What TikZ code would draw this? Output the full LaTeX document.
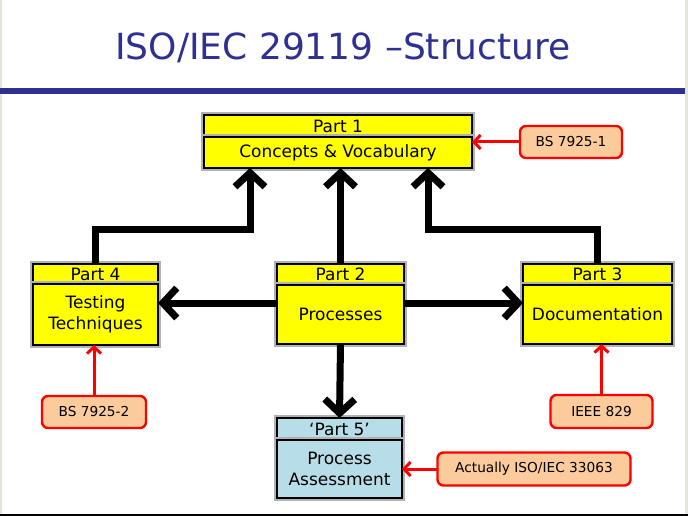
\documentclass[tikz,border=0pt]{standalone}
\usepackage{fontspec}
\setmainfont{DejaVu Sans}
\usetikzlibrary{positioning,arrows.meta}

\definecolor{isoblue}{HTML}{2E3192}
\definecolor{partyellow}{HTML}{FFFF00}
\definecolor{partblue}{HTML}{B7DEE8}
\definecolor{tagorange}{HTML}{FBCB9C}
\definecolor{edgebeige}{HTML}{E6E6D6}

\tikzset{
  part/.style={draw=black, line width=2.6pt, outer sep=0pt, fill=partyellow,
    preaction={draw=black!30, line width=6.5pt},
    align=center, font=\fontsize{17}{20.5}\selectfont, inner sep=0pt},
  tag/.style={draw=red, line width=2.4pt, rounded corners=6pt, fill=tagorange,
    outer sep=0pt, font=\fontsize{13.7}{16}\selectfont, inner sep=0pt},
  flow/.style={line width=7pt, -{Straight Barb[length=14pt,width=30pt]}},
  ref/.style={red, line width=3pt, -{Straight Barb[length=6.5pt,width=14pt]}}
}

\begin{document}
\begin{tikzpicture}[x=1pt,y=-1pt]
\useasboundingbox (0,0) rectangle (688,516);
\fill[white] (0,0) rectangle (688,516);
\fill[edgebeige] (0,0) rectangle (1.5,516);
\fill[edgebeige] (684.5,0) rectangle (688,516);
\fill[black] (0,513.5) rectangle (688,516);

% title and rule
\node[isoblue, font=\fontsize{36}{43}\selectfont] (title) at (343,48) {ISO/IEC 29119 –Structure};
\fill[isoblue] (0,88) rectangle (684.5,94);

% parts
\node[part, minimum width=268, minimum height=22] (p1h) at (338,126) {Part 1};
\node[part, minimum width=268, minimum height=31, below=0pt of p1h] (p1) {Concepts \& Vocabulary};

\node[part, minimum width=125, minimum height=20] (p4h) at (95.5,274) {Part 4};
\node[part, minimum width=125, minimum height=61, below=0pt of p4h] (p4) {Testing\\Techniques};

\node[part, minimum width=127, minimum height=21] (p2h) at (340.5,274.5) {Part 2};
\node[part, minimum width=127, minimum height=59, below=0pt of p2h] (p2) {Processes};

\node[part, minimum width=149, minimum height=21] (p3h) at (597.5,274.5) {Part 3};
\node[part, minimum width=149, minimum height=59, below=0pt of p3h] (p3) {Documentation};

\node[part, fill=partblue, minimum width=125, minimum height=22] (p5h) at (339.5,429) {‘Part 5’};
\node[part, fill=partblue, minimum width=125, minimum height=58, below=0pt of p5h] (p5) {Process\\Assessment};

% flows between parts
\coordinate (j4) at (250,229);
\coordinate (j3) at (428,229);
\coordinate (hline) at (0,303);
\draw[flow] (p4h.north) |- (j4) -- (j4 |- p1.south);
\draw[flow] (p3h.north) |- (j3) -- (j3 |- p1.south);
\draw[flow] (p2h.north) -- (p2h.north |- p1.south);
\draw[flow] (p2.west |- hline) -- (p4.east |- hline);
\draw[flow] (p2.east |- hline) -- (p3.west |- hline);
\draw[flow] (p2.south) -- (p5h.north);

% origins
\node[tag, minimum width=102, minimum height=32] (t1) at (571,142) {BS 7925-1};
\node[tag, minimum width=104, minimum height=32] (t4) at (94,412) {BS 7925-2};
\node[tag, minimum width=102, minimum height=33] (t3) at (601.5,411.5) {IEEE 829};
\node[tag, minimum width=193, minimum height=33] (t5) at (534,469) {Actually ISO/IEC 33063};

\draw[ref] (t1.west) -- (p1.east |- t1.west);
\draw[ref] (t4.north) -- (t4.north |- p4.south);
\draw[ref] (t3.north) -- (t3.north |- p3.south);
\draw[ref] (t5.west) -- (p5.east |- t5.west);

\end{tikzpicture}
\end{document}
